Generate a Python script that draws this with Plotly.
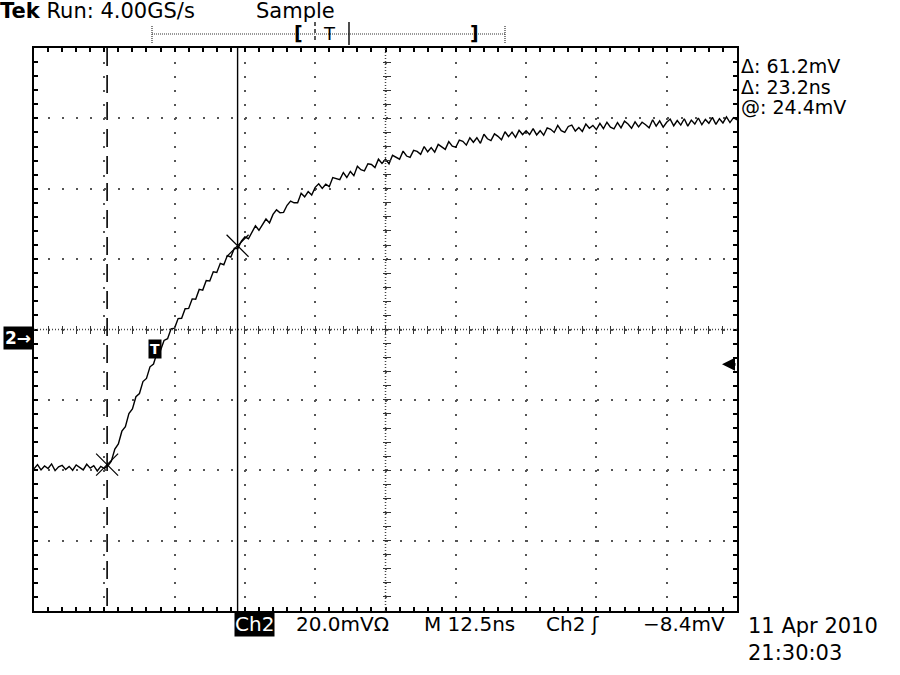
import plotly.graph_objects as go

# scope settings (from the screen)
ns_per_div = 12.5
mv_per_div = 20.0
n_xdiv = 10
n_ydiv = 8
sample_ns = 0.625  # spacing of the points

# Ch2 trace in mV, one value every sample_ns from the left edge of the screen
ch2_mv = [
    -39.6, -38.4, -39.9, -38.8, -39.5, -38.2, -40.1, -39.0, -38.6, -39.8,
    -38.9, -40.0, -38.5, -39.3, -39.9, -38.3, -39.4, -38.7, -40.2, -38.9,
    -39.5, -38.8, -37.4, -34.0, -32.5, -28.9, -27.6, -23.9, -22.6, -19.1,
    -18.2, -14.8, -13.9, -10.6, -9.8, -6.6, -5.9, -3.1, -2.6, 0.2,
    0.4, 3.1, 3.2, 5.9, 6.0, 8.7, 8.6, 11.4, 11.2, 13.9,
    13.8, 16.4, 16.2, 18.8, 18.4, 21.0, 20.6, 23.1, 23.0, 25.1,
    26.3, 25.8, 27.5, 29.5, 28.2, 29.7, 31.4, 30.3, 32.7, 34.0,
    33.2, 33.3, 35.3, 36.5, 36.0, 36.0, 38.7, 37.7, 39.2, 38.2,
    40.4, 41.4, 40.1, 41.3, 40.6, 43.2, 43.0, 42.6, 44.6, 43.2,
    44.9, 43.7, 46.4, 45.4, 45.1, 47.1, 46.9, 46.0, 48.4, 47.2,
    48.4, 47.1, 49.5, 49.0, 48.4, 50.7, 49.3, 48.9, 50.9, 50.6,
    49.8, 52.0, 50.5, 51.7, 50.4, 52.6, 51.8, 51.2, 53.4, 52.1,
    51.8, 53.8, 53.5, 52.4, 54.5, 53.2, 54.5, 52.9, 55.5, 54.2,
    53.7, 55.6, 54.9, 53.9, 56.2, 54.8, 56.1, 54.6, 56.6, 55.4,
    56.5, 55.4, 57.1, 55.3, 56.5, 55.2, 57.3, 56.9, 56.0, 58.0,
    56.5, 56.0, 57.7, 58.1, 56.4, 57.4, 56.3, 58.4, 57.2, 58.0,
    56.8, 58.6, 57.1, 58.9, 57.5, 57.0, 58.8, 57.3, 59.2, 58.4,
    57.2, 59.0, 57.6, 58.9, 58.2, 57.3, 59.6, 57.8, 59.3, 57.5,
    58.9, 59.8, 57.9, 59.4, 58.1, 59.9, 57.8, 59.5, 58.4, 60.1,
    58.2, 59.7, 58.6, 60.3, 58.3, 59.9, 58.7, 60.4, 58.8, 60.2,
    59.6,
]

cursor_ns = [13.0, 36.2]      # dashed / solid cursor
cursor_mv = [-38.4, 23.8]     # where the X marks sit on the trace
trig_mark = [21.6, -5.4]      # the "T" box on the trace
trig_level_mv = -9.9          # arrow on the right edge

readouts = ["Δ: 61.2mV", "Δ: 23.2ns", "@: 24.4mV"]
header = ["<b>Tek</b> Run: 4.00GS/s", "Sample"]
footer = ["20.0mVΩ", "M 12.5ns", "Ch2 ʃ", "−8.4mV"]
stamp = ["11 Apr 2010", "21:30:03"]

# screen geometry in pixels
L, R, T, B = 34, 737, 48, 611
W, H = R - L, B - T
FONT = "DejaVu Sans"


def px(p):
    return (p - L) / W


def py(p):
    return (B - p) / H


x_rng = [0, n_xdiv * ns_per_div]
y_rng = [-n_ydiv / 2 * mv_per_div, n_ydiv / 2 * mv_per_div]

fig = go.Figure()

fig.add_trace(go.Scatter(
    y=ch2_mv, x0=0, dx=sample_ns, mode="lines",
    line=dict(color="black", width=1.4), hoverinfo="skip"
))
fig.add_trace(go.Scatter(
    x=cursor_ns, y=cursor_mv, mode="markers",
    marker=dict(symbol="x-thin", size=22, line=dict(color="black", width=1.2)),
    hoverinfo="skip"
))
# empty trace so the centre tick axes get drawn
fig.add_trace(go.Scatter(x=[], y=[], xaxis="x2", yaxis="y2", showlegend=False))

dot = "2px,%.2fpx" % (W / (n_xdiv * 5) - 2)
dot_y = "2px,%.2fpx" % (H / (n_ydiv * 5) - 2)

fig.update_layout(
    width=900, height=675,
    margin=dict(l=L, r=900 - R, t=T, b=675 - B),
    paper_bgcolor="white", plot_bgcolor="white",
    showlegend=False,
    font=dict(family=FONT, color="black"),
    xaxis=dict(
        range=x_rng, tick0=0, dtick=ns_per_div,
        showgrid=True, gridcolor="#555", gridwidth=1.6, griddash=dot,
        zeroline=False, showticklabels=False,
        ticks="inside", ticklen=4, tickwidth=1.5, tickcolor="black",
        minor=dict(dtick=ns_per_div / 5, ticks="inside", ticklen=4,
                   tickwidth=1.5, tickcolor="black", showgrid=False),
        showline=True, linecolor="black", linewidth=2, mirror="ticks",
        fixedrange=True,
    ),
    yaxis=dict(
        range=y_rng, tick0=0, dtick=mv_per_div,
        showgrid=True, gridcolor="#555", gridwidth=1.6, griddash=dot_y,
        zeroline=False, showticklabels=False,
        ticks="inside", ticklen=4, tickwidth=1.5, tickcolor="black",
        minor=dict(dtick=mv_per_div / 5, ticks="inside", ticklen=4,
                   tickwidth=1.5, tickcolor="black", showgrid=False),
        showline=True, linecolor="black", linewidth=2, mirror="ticks",
        fixedrange=True,
    ),
    xaxis2=dict(
        overlaying="x", anchor="free", position=0.5 - 4 / H, range=x_rng,
        tick0=0, dtick=ns_per_div / 5, ticks="inside", ticklen=8, tickwidth=1.3,
        tickcolor="#333", showgrid=False, zeroline=False, showline=False,
        showticklabels=False, fixedrange=True,
    ),
    yaxis2=dict(
        overlaying="y", anchor="free", position=0.5 - 4 / W, range=y_rng,
        tick0=0, dtick=mv_per_div / 5, ticks="inside", ticklen=8, tickwidth=1.3,
        tickcolor="#333", showgrid=False, zeroline=False, showline=False,
        showticklabels=False, fixedrange=True, side="left",
    ),
)

shapes = [
    # centre lines
    dict(type="line", xref="paper", yref="paper", x0=0.5, x1=0.5, y0=0, y1=1,
         line=dict(color="#444", width=1.5, dash="1px,2px")),
    dict(type="line", xref="paper", yref="paper", x0=0, x1=1, y0=0.5, y1=0.5,
         line=dict(color="#444", width=1.5, dash="1px,2px")),
    # cursors
    dict(type="line", xref="x", yref="paper", x0=cursor_ns[0], x1=cursor_ns[0],
         y0=1, y1=0, line=dict(color="black", width=1.6, dash="18px,9px")),
    dict(type="line", xref="x", yref="paper", x0=cursor_ns[1], x1=cursor_ns[1],
         y0=0, y1=1, line=dict(color="black", width=1.4)),
    # record position bar at the top
    dict(type="line", xref="paper", yref="paper", x0=px(152), x1=px(505),
         y0=py(34), y1=py(34), line=dict(color="#333", width=1.2, dash="1px,1px")),
    dict(type="line", xref="paper", yref="paper", x0=px(152), x1=px(152),
         y0=py(26), y1=py(43), line=dict(color="#333", width=1.2, dash="1px,1px")),
    dict(type="line", xref="paper", yref="paper", x0=px(505), x1=px(505),
         y0=py(26), y1=py(43), line=dict(color="#333", width=1.2, dash="1px,1px")),
    dict(type="line", xref="paper", yref="paper", x0=px(315), x1=px(315),
         y0=py(22), y1=py(43), line=dict(color="black", width=1.3, dash="4px,3px")),
    dict(type="line", xref="paper", yref="paper", x0=px(349), x1=px(349),
         y0=py(22), y1=py(45), line=dict(color="black", width=1.4)),
]
fig.update_layout(shapes=shapes)


def label(text, x, y, size=21, anchor="left", **kw):
    fig.add_annotation(text=text, xref="paper", yref="paper", x=px(x), y=py(y),
                       xanchor=anchor, yanchor="middle", showarrow=False,
                       font=dict(family=FONT, size=size, color=kw.pop("color", "black")),
                       **kw)


label(header[0], -2, 11)
label(header[1], 254, 11)
label("<b>[</b>", 292, 33, size=19)
label("<b>]</b>", 468, 33, size=19)
label("T", 321, 33, size=18)

for i, txt in enumerate(readouts):
    label(txt, 740, [66, 87, 107][i], size=19, borderpad=0)

label("Ch2", 234, 624, size=20, color="white", bgcolor="black", borderpad=0)
for txt, x in zip(footer, [294, 422, 544, 641]):
    label(txt, x, 624, size=20)
label(stamp[0], 746, 626)
label(stamp[1], 746, 653)

# channel ground marker
fig.add_annotation(text="<b>2→</b>", xref="paper", yref="y", x=0, y=0,
                   xanchor="right", yanchor="middle", yshift=-8, xshift=-1,
                   showarrow=False, bgcolor="black", borderpad=1,
                   font=dict(family=FONT, size=17, color="white"))
# trigger point on the trace
fig.add_annotation(text="<b>T</b>", x=trig_mark[0], y=trig_mark[1],
                   showarrow=False, bgcolor="black", borderpad=1,
                   font=dict(family=FONT, size=14, color="white"))
# trigger level arrow on the right edge
fig.add_annotation(text="", xref="paper", yref="y", x=1 - 15 / W, y=trig_level_mv,
                   ax=15, ay=0, showarrow=True, arrowhead=2, arrowsize=1.0,
                   arrowwidth=2.6, arrowcolor="black")

# drop the browser's default 8px body margin so the screen sits at the window corner
fig.write_html("out.html", config={"displayModeBar": False},
               post_script="document.body.style.margin='0';")
